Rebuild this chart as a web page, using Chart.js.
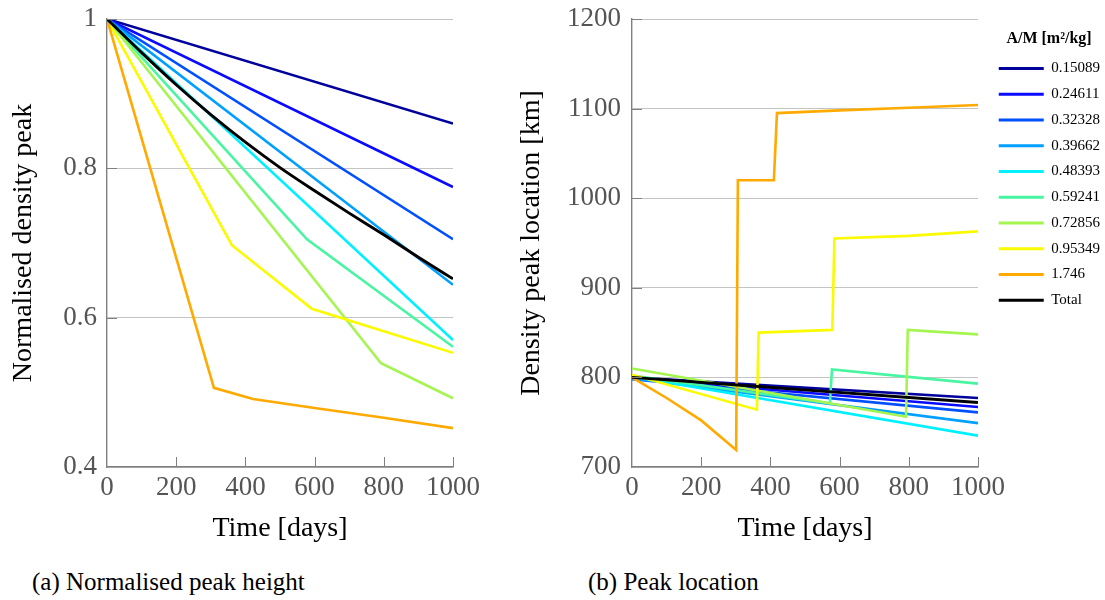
<!DOCTYPE html>
<html>
<head>
<meta charset="utf-8">
<script src="https://cdn.jsdelivr.net/npm/chart.js@4.4.1/dist/chart.umd.min.js"></script>
<style>
  html, body { margin: 0; padding: 0; background: #fff; }
  body { width: 1105px; height: 600px; overflow: hidden; position: relative; }
  canvas { position: absolute; top: 0; }
  .cap { position: absolute; top: 569px; font-family: "Liberation Serif", serif; font-size: 25px; line-height: 26px; color: #000; white-space: nowrap; }
</style>
</head>
<body>
<canvas id="ca" width="520" height="560" style="left:0px"></canvas>
<canvas id="cb" width="605" height="560" style="left:505px"></canvas>
<div class="cap" style="left:32px">(a) Normalised peak height</div>
<div class="cap" style="left:588px">(b) Peak location</div>
<script>
// ---- data ----
const amLabels = ['0.15089', '0.24611', '0.32328', '0.39662', '0.48393', '0.59241', '0.72856', '0.95349', '1.746', 'Total'];
const lineColors = ['#00009c', '#0a0aff', '#0050ff', '#00a0ff', '#00f0ff', '#48f5a0', '#a4f550', '#fafa00', '#ffaa00', '#000000'];
const xTicks = [0, 200, 400, 600, 800, 1000];
const heightTicks = [0.4, 0.6, 0.8, 1];
const locationTicks = [700, 800, 900, 1000, 1100, 1200];

// normalised peak height: [time (days), value]
const height_015089 = [[0, 1], [1000, 0.860]];
const height_024611 = [[0, 1], [1000, 0.775]];
const height_032328 = [[0, 1], [1000, 0.705]];
const height_039662 = [[0, 1], [1000, 0.644]];
const height_048393 = [[0, 1], [1000, 0.570]];
const height_059241 = [[0, 1], [578, 0.705], [1000, 0.561]];
const height_072856 = [[0, 1], [792, 0.539], [1000, 0.492]];
const height_095349 = [[0, 1], [361, 0.697], [592, 0.612], [1000, 0.553]];
const height_1746 = [[0, 1], [309, 0.506], [422, 0.491], [600, 0.479], [800, 0.466], [1000, 0.452]];
const height_total = [[0, 1], [100, 0.955], [200, 0.912], [300, 0.872], [400, 0.835], [500, 0.801], [600, 0.770], [700, 0.740], [800, 0.711], [900, 0.681], [1000, 0.652]];

// peak location [km]: [time (days), value]
const loc_015089 = [[0, 800], [1000, 777]];
const loc_024611 = [[0, 799], [1000, 767]];
const loc_032328 = [[0, 798], [1000, 761]];
const loc_039662 = [[0, 799], [1000, 749]];
const loc_048393 = [[0, 801], [1000, 735]];
const loc_059241 = [[0, 802], [572, 771], [578, 809], [1000, 793]];
const loc_072856 = [[0, 810], [792, 756], [797, 853], [1000, 848]];
const loc_095349 = [[0, 803], [361, 764], [366, 850], [579, 853], [585, 955], [800, 958], [1000, 963]];
const loc_1746 = [[0, 800], [100, 777], [200, 752], [301, 719], [306, 1020], [410, 1020], [419, 1095], [600, 1098], [800, 1101], [1000, 1104]];
const loc_total = [[0, 800], [1000, 772]];

const heightSeries = [height_015089, height_024611, height_032328, height_039662, height_048393, height_059241, height_072856, height_095349, height_1746, height_total];
const locSeries = [loc_015089, loc_024611, loc_032328, loc_039662, loc_048393, loc_059241, loc_072856, loc_095349, loc_1746, loc_total];

// ---- styling ----
const SERIF = '"Liberation Serif", "Times New Roman", serif';
const tickColor = '#555555';
const axisColor = '#808080';
const gridColor = '#c4c4c4';

function makeDatasets(series, smoothTotal) {
  const last = series.length - 1;
  return series.map((s, i) => ({
    label: amLabels[i],
    data: s.map(p => ({ x: p[0], y: p[1] })),
    borderColor: lineColors[i],
    backgroundColor: lineColors[i],
    borderWidth: i === last ? 2.9 : 2.6,
    pointRadius: 0,
    tension: 0,
    cubicInterpolationMode: (smoothTotal && i === last) ? 'monotone' : 'default',
    fill: false,
    order: -i,
    yAxisID: 'y'
  }));
}

const inwardTicks = {
  id: 'inwardTicks',
  afterDatasetsDraw(chart) {
    const { ctx, chartArea: a } = chart;
    const x = chart.scales.x, y = chart.scales.y;
    ctx.save();
    ctx.strokeStyle = axisColor;
    ctx.lineWidth = 1;
    x.ticks.forEach(t => {
      if (t.value === x.min) return;
      const px = Math.round(x.getPixelForValue(t.value)) + 0.5;
      ctx.beginPath(); ctx.moveTo(px, a.bottom); ctx.lineTo(px, a.bottom - 10); ctx.stroke();
    });
    y.ticks.forEach(t => {
      if (t.value === y.min) return;
      const py = Math.round(y.getPixelForValue(t.value)) + 0.5;
      ctx.beginPath(); ctx.moveTo(a.left, py); ctx.lineTo(a.left + 10, py); ctx.stroke();
    });
    ctx.restore();
  }
};

function xScale() {
  return {
    type: 'linear', position: 'bottom', min: 0, max: 1000,
    afterBuildTicks: s => { s.ticks = xTicks.map(v => ({ value: v })); },
    afterFit: s => { s.height = 93; },
    grid: { display: false, drawTicks: false },
    border: { display: true, color: axisColor, width: 1.4 },
    ticks: { color: tickColor, font: { family: SERIF, size: 27 }, padding: 5, maxRotation: 0, autoSkip: false, callback: v => String(v) },
    title: { display: true, text: 'Time [days]', color: '#000', font: { family: SERIF, size: 28 }, padding: { top: 0, bottom: 15 } }
  };
}

function yScale(min, max, ticks, fmt, width, title, pad, titlePad) {
  return {
    type: 'linear', position: 'left', min: min, max: max,
    afterBuildTicks: s => { s.ticks = ticks.map(v => ({ value: v })); },
    afterFit: s => { s.width = width; },
    grid: { display: true, color: gridColor, lineWidth: 1, drawTicks: false },
    border: { display: true, color: axisColor, width: 1.4 },
    ticks: { color: tickColor, font: { family: SERIF, size: 27, lineHeight: 0.5 }, padding: pad, autoSkip: false, callback: fmt },
    title: { display: true, text: title, color: '#000', font: { family: SERIF, size: 28 }, padding: { top: titlePad, bottom: 0 } }
  };
}

// ---- chart (a) ----
new Chart(document.getElementById('ca'), {
  type: 'line',
  data: { datasets: makeDatasets(heightSeries, true) },
  options: {
    responsive: false, animation: false,
    layout: { padding: { top: 19, right: 67, bottom: 0, left: 0 } },
    plugins: { legend: { display: false }, tooltip: { enabled: false } },
    scales: {
      x: xScale(),
      y: yScale(0.4, 1, heightTicks, v => (v === 1 ? '1' : v.toFixed(1)), 107, 'Normalised density peak', 10, 7)
    }
  },
  plugins: [inwardTicks]
});

// ---- chart (b) ----
new Chart(document.getElementById('cb'), {
  type: 'line',
  data: { datasets: makeDatasets(locSeries, false) },
  options: {
    responsive: false, animation: false,
    layout: { padding: { top: 19, right: 0, bottom: 0, left: 0 } },
    plugins: {
      tooltip: { enabled: false },
      legend: {
        display: true, position: 'right', align: 'start', maxWidth: 160,
        title: { display: true, text: 'A/M [m²/kg]', color: '#000', font: { family: SERIF, size: 16, weight: 'bold' }, padding: { top: 12, bottom: 0 } },
        labels: {
          color: '#000', font: { family: SERIF, size: 15 }, boxWidth: 45, boxHeight: 3, padding: 10.75,
          sort: (a, b) => a.datasetIndex - b.datasetIndex,
          generateLabels: chart => Chart.defaults.plugins.legend.labels.generateLabels(chart).map(l => Object.assign({}, l, { fillStyle: l.strokeStyle, lineWidth: 0 }))
        }
      }
    },
    scales: {
      x: xScale(),
      y: yScale(700, 1200, locationTicks, v => String(v), 127, 'Density peak location [km]', 11, 10),
      pad: {
        type: 'linear', position: 'right', display: true,
        grid: { display: false }, border: { display: false }, ticks: { display: false },
        afterFit: s => { s.width = 10; }
      }
    }
  },
  plugins: [inwardTicks]
});
</script>
</body>
</html>
